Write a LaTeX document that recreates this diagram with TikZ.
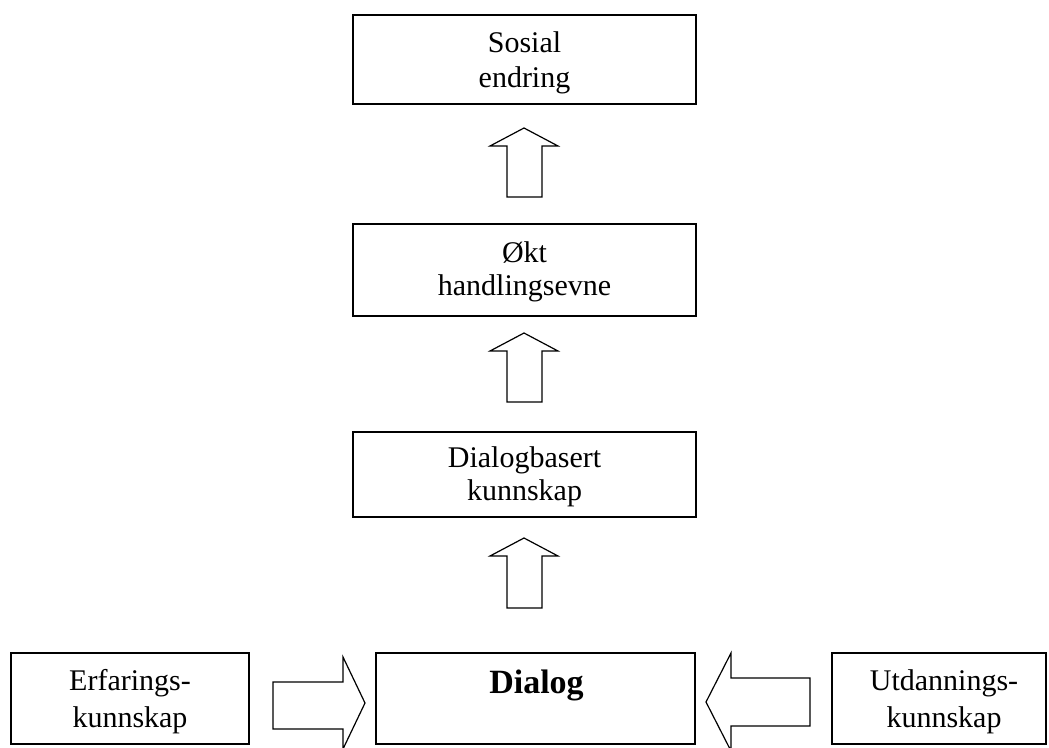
\documentclass[tikz,border=0pt]{standalone}
\usepackage{fontspec}
\setmainfont{Liberation Serif}
\begin{document}
\begin{tikzpicture}[x=0.75pt,y=-0.75pt,
  box/.style={draw=black, line width=1.2pt, rectangle, inner sep=0pt},
  lbl/.style={inner sep=0pt, anchor=base, font=\fontsize{22.5}{26}\selectfont},
  boldlbl/.style={inner sep=0pt, anchor=base, font=\fontsize{25.5}{29}\selectfont\bfseries},
  blockarrow/.style={draw=black, line width=0.9pt, fill=white, line join=miter}]
\clip (0,0) rectangle (1049,747);
\fill[white] (0,0) rectangle (1049,747);

% boxes
\node[box, minimum width=257.25pt, minimum height=66.75pt] (b1) at (524.5,59.5) {};
\node[box, minimum width=257.25pt, minimum height=69pt] (b2) at (524.5,270) {};
\node[box, minimum width=257.25pt, minimum height=63.75pt] (b3) at (524.5,474.5) {};
\node[box, minimum width=239.25pt, minimum height=68.25pt] (dia) at (535.5,698.5) {};
\node[box, minimum width=178.5pt, minimum height=68.25pt] (erf) at (130,698.5) {};
\node[box, minimum width=160.5pt, minimum height=68.25pt] (utd) at (939,698.5) {};

% texts
\node[lbl] (t1a) at (524.5,52) {Sosial};
\node[lbl] (t1b) at (524.5,87) {endring};
\node[lbl] (t2a) at (524.5,262) {Økt};
\node[lbl] (t2b) at (524.5,295) {handlingsevne};
\node[lbl] (t3a) at (524.5,467) {Dialogbasert};
\node[lbl] (t3b) at (524.5,500) {kunnskap};
\node[boldlbl] (tdia) at (536.5,693) {Dialog};
\node[lbl] (tea) at (130,690) {Erfarings-};
\node[lbl] (teb) at (130,727) {kunnskap};
\node[lbl] (tua) at (944,690) {Utdannings-};
\node[lbl] (tub) at (944,727) {kunnskap};

% block arrows
\draw[blockarrow] (507,197) -- (507,146) -- (490,146) -- (524,128) -- (558,146) -- (542,146) -- (542,197) -- cycle;
\draw[blockarrow] (507,402) -- (507,351) -- (490,351) -- (524,333) -- (558,351) -- (542,351) -- (542,402) -- cycle;
\draw[blockarrow] (507,608) -- (507,556) -- (490,556) -- (524,538) -- (558,556) -- (542,556) -- (542,608) -- cycle;
\draw[blockarrow] (273,682) -- (343,682) -- (343,657) -- (365,703) -- (343,749) -- (343,729) -- (273,729) -- cycle;
\draw[blockarrow] (810,678) -- (731,678) -- (731,653) -- (706,702) -- (731,751) -- (731,726) -- (810,726) -- cycle;
\end{tikzpicture}
\end{document}
